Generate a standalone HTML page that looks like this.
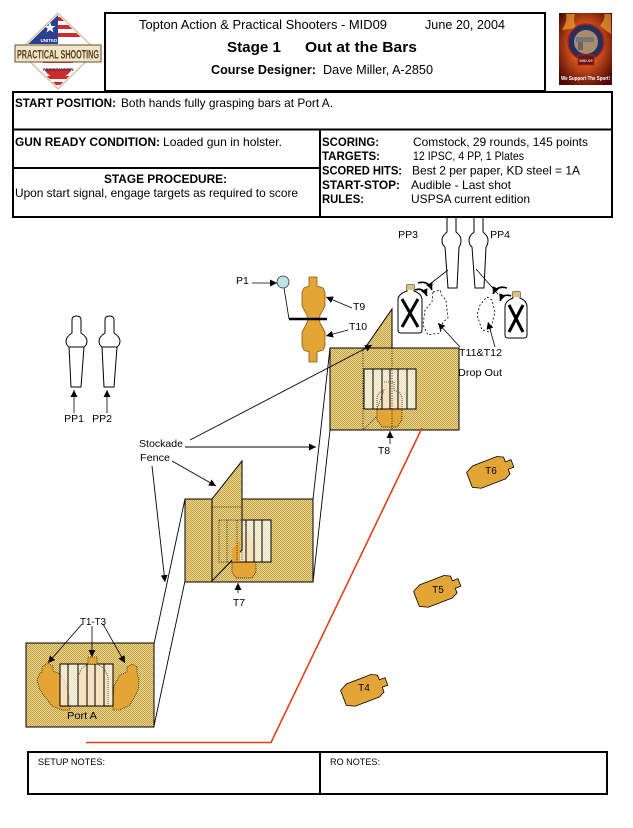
<!DOCTYPE html>
<html><head><meta charset="utf-8"><style>
html,body{margin:0;padding:0;background:#fff;width:633px;height:828px;overflow:hidden}
svg{display:block}
text{font-family:"Liberation Sans",Arial,sans-serif;fill:#000}
</style></head><body>
<svg width="633" height="828" viewBox="0 0 633 828" xmlns="http://www.w3.org/2000/svg">
<defs>
<pattern id="h" width="2" height="2" patternUnits="userSpaceOnUse"><rect width="2" height="2" fill="#efd98e"/><rect width="1" height="1" fill="#bf9f48"/><rect x="1" y="1" width="1" height="1" fill="#bf9f48"/></pattern>
<marker id="a" viewBox="0 0 10 10" refX="10" refY="5" markerWidth="7" markerHeight="7" markerUnits="userSpaceOnUse" orient="auto"><path d="M0,0 L10,5 L0,10 z" fill="#000"/></marker>
<clipPath id="dc"><polygon points="58,15 95,51 58,87 21,51"/></clipPath>
<radialGradient id="fire" cx="50%" cy="45%" r="65%"><stop offset="0" stop-color="#f6b030"/><stop offset="0.45" stop-color="#d0501a"/><stop offset="1" stop-color="#4a0806"/></radialGradient>
</defs>

<!-- ===== DIAGRAM ===== -->
<!-- PP3 / PP4 poppers (top hidden under table) -->
<path d="M447,232 L447,212 Q447,208 451.5,208 Q456,208 456,212 L456,232 Q461,236 461,240 Q461,245 459,247 L457,288 L448,288 L445,247 Q442,245 442,240 Q442,236 447,232 Z" fill="#fff" stroke="#000" stroke-width="1"/>
<path d="M474,232 L474,212 Q474,208 478.5,208 Q483,208 483,212 L483,232 Q488,236 488,240 Q488,245 486,247 L484,288 L475,288 L472,247 Q469,245 469,240 Q469,236 474,232 Z" fill="#fff" stroke="#000" stroke-width="1"/>
<text x="408" y="238" font-size="10.5" text-anchor="middle">PP3</text>
<text x="500" y="238" font-size="10.5" text-anchor="middle">PP4</text>
<line x1="448" y1="270" x2="430" y2="284" stroke="#000" stroke-width="0.8"/>
<line x1="476" y1="269" x2="498" y2="294" stroke="#000" stroke-width="0.8"/>

<!-- steel plates with X -->
<path d="M407,285 L414,285 L414,291 Q422,294 422,300 L422,330 Q422,333 419,333 L401,333 Q398,333 398,330 L398,300 Q398,294 407,291 Z" fill="#fff" stroke="#000" stroke-width="1"/>
<rect x="407" y="285" width="7" height="5" fill="#e3c078"/>
<path d="M402,299 L418,327 M418,299 L402,327" stroke="#000" stroke-width="3"/>
<path d="M513,292 L520,292 L520,298 Q527,301 527,307 L527,335 Q527,338 524,338 L508,338 Q505,338 505,335 L505,307 Q505,301 513,298 Z" fill="#fff" stroke="#000" stroke-width="1"/>
<rect x="513" y="292" width="7" height="5" fill="#e3c078"/>
<path d="M509,305 L523,332 M523,305 L509,332" stroke="#000" stroke-width="3"/>
<!-- dropped (dashed) -->
<path d="M433,292 L440,290 L442,296 L446,300 L448,318 L443,322 L440,333 L428,335 L423,325 L425,310 L432,302 Z" fill="none" stroke="#000" stroke-width="0.8" stroke-dasharray="2,2"/>
<path d="M487,297 L492,300 L495,312 L490,332 L482,330 L477,315 L480,305 L484,300 Z" fill="none" stroke="#000" stroke-width="0.8" stroke-dasharray="2,2"/>
<!-- curved arrows -->
<path d="M418,283 Q428,280 432,290" fill="none" stroke="#000" stroke-width="1.6" marker-end="url(#a)"/>
<path d="M415,290 Q423,287 427,296" fill="none" stroke="#000" stroke-width="1.6" marker-end="url(#a)"/>
<path d="M507,288 Q497,285 493,294" fill="none" stroke="#000" stroke-width="1.6" marker-end="url(#a)"/>
<path d="M511,296 Q503,293 500,301" fill="none" stroke="#000" stroke-width="1.6" marker-end="url(#a)"/>
<text x="459" y="356" font-size="10.5" textLength="43" lengthAdjust="spacingAndGlyphs">T11&amp;T12</text>
<text x="458" y="376" font-size="10.5" textLength="44" lengthAdjust="spacingAndGlyphs">Drop Out</text>
<line x1="460" y1="347" x2="438" y2="323" stroke="#000" stroke-width="0.8" marker-end="url(#a)"/>
<line x1="495" y1="347" x2="488" y2="322" stroke="#000" stroke-width="0.8" marker-end="url(#a)"/>

<!-- PP1 PP2 -->
<path d="M72,333 L72,320 Q72,316 76.5,316 Q81,316 81,320 L81,333 Q87,337 87,341 Q87,345 84,347 L81,387 L71,387 L69,347 Q66,345 66,341 Q66,337 72,333 Z M69,347 H84" fill="#fff" stroke="#000" stroke-width="1"/>
<path d="M105,333 L105,320 Q105,316 109.5,316 Q114,316 114,320 L114,333 Q120,337 120,341 Q120,345 117,347 L114,387 L104,387 L102,347 Q99,345 99,341 Q99,337 105,333 Z M102,347 H117" fill="#fff" stroke="#000" stroke-width="1"/>
<line x1="74" y1="413" x2="74" y2="390" stroke="#000" stroke-width="0.8" marker-end="url(#a)"/>
<line x1="107" y1="413" x2="107" y2="390" stroke="#000" stroke-width="0.8" marker-end="url(#a)"/>
<text x="74" y="422" font-size="10.5" text-anchor="middle">PP1</text>
<text x="102" y="422" font-size="10.5" text-anchor="middle">PP2</text>

<!-- P1 / T9 / T10 -->
<text x="236" y="284" font-size="10.5">P1</text>
<line x1="252" y1="283" x2="277" y2="283" stroke="#000" stroke-width="0.8" marker-end="url(#a)"/>
<line x1="284" y1="288" x2="289" y2="319" stroke="#000" stroke-width="0.8"/>
<circle cx="283" cy="282" r="6" fill="#bfe3e3" stroke="#333" stroke-width="0.8"/>
<path d="M309,277 H317 V286 L323,288 L325,292 V306 L320,315 L319.5,319 H307.5 L307,315 L302,306 V292 L304,288 L309,286 Z" fill="#e3a535" stroke="#8a5a10" stroke-width="0.8"/>
<path d="M307.5,319 H319.5 L320,323 L325,332 V346 L323,350 L317,352 V362 H309 V352 L304,350 L302,346 V332 L307,323 Z" fill="#e3a535" stroke="#8a5a10" stroke-width="0.8"/>
<line x1="289" y1="319" x2="327" y2="319" stroke="#000" stroke-width="2.5"/>
<text x="353" y="310" font-size="10.5">T9</text>
<text x="349" y="330" font-size="10.5">T10</text>
<line x1="352" y1="308" x2="326" y2="297" stroke="#000" stroke-width="0.8" marker-end="url(#a)"/>
<line x1="348" y1="330" x2="326" y2="336" stroke="#000" stroke-width="0.8" marker-end="url(#a)"/>

<!-- connecting lines -->
<g stroke="#000" stroke-width="0.9" fill="none">
<line x1="154" y1="644" x2="185" y2="499"/>
<line x1="154" y1="726" x2="185" y2="581"/>
<line x1="313" y1="499" x2="330" y2="348"/>
<line x1="313" y1="582" x2="330" y2="430"/>
</g>

<!-- T8 box -->
<rect x="330" y="348" width="129" height="82" fill="url(#h)" stroke="#000" stroke-width="1"/>
<polygon points="365,348 392,309 392,348" fill="url(#h)" stroke="#000" stroke-width="1"/>
<path d="M377,409 H402 V420 L397,427 H382 L377,420 Z" fill="#e3a535" stroke="#000" stroke-width="0.7" stroke-dasharray="1,1"/>
<path d="M384,382 H394 V390 L400,393 L402,397 V409 H377 V397 L379,393 L384,390 Z" fill="#e3a535"/>
<rect x="364" y="369" width="52" height="40" fill="#fff" fill-opacity="0.68" stroke="#000" stroke-width="1"/>
<path d="M384,382 H394 V390 L400,393 L402,397 V409 M377,409 V397 L379,393 L384,390 Z" fill="none" stroke="#000" stroke-width="0.6" stroke-dasharray="1,1"/>
<g stroke="#000" stroke-width="1"><line x1="373" y1="369" x2="373" y2="409"/><line x1="382" y1="369" x2="382" y2="409"/><line x1="390" y1="369" x2="390" y2="409"/><line x1="398" y1="369" x2="398" y2="409"/><line x1="407" y1="369" x2="407" y2="409"/></g>
<g stroke="#000" stroke-width="0.8" stroke-dasharray="1,1.5"><line x1="363" y1="348" x2="363" y2="430"/><line x1="392" y1="348" x2="392" y2="430"/><line x1="363" y1="430" x2="377" y2="416"/></g>
<line x1="390" y1="444" x2="390" y2="431" stroke="#000" stroke-width="0.8" marker-end="url(#a)"/>
<text x="384" y="454" font-size="10.5" text-anchor="middle">T8</text>

<!-- T7 box -->
<rect x="185" y="499" width="128" height="83" fill="url(#h)" stroke="#000" stroke-width="1"/>
<path d="M232,562 H256 V572 L252,578 H236 L232,572 Z" fill="#e3a535" stroke="#000" stroke-width="0.7" stroke-dasharray="1,1"/>
<path d="M241,532 H250 V538 L255,541 L256,545 V562 H238 V545 L239,541 L241,538 Z" fill="#e3a535"/>
<rect x="219" y="520" width="52" height="42" fill="#fff" fill-opacity="0.68" stroke="#000" stroke-width="1"/>
<g stroke="#000" stroke-width="1"><line x1="227" y1="520" x2="227" y2="562"/><line x1="237" y1="520" x2="237" y2="562"/><line x1="246" y1="520" x2="246" y2="562"/><line x1="254" y1="520" x2="254" y2="562"/><line x1="262" y1="520" x2="262" y2="562"/></g>
<polygon points="212,499 242,461 242,550 212,581" fill="url(#h)" stroke="#000" stroke-width="1"/>
<path d="M232,562 L232,549 L237,543 L240,540 L240,562 Z" fill="#e3a535"/>
<g stroke="#000" stroke-width="0.7" stroke-dasharray="1,1.3" fill="none"><rect x="219" y="520" width="23" height="42"/><line x1="227" y1="520" x2="227" y2="562"/><line x1="237" y1="520" x2="237" y2="562"/><line x1="212" y1="507" x2="242" y2="507"/></g>
<line x1="238" y1="593" x2="238" y2="583" stroke="#000" stroke-width="0.8" marker-end="url(#a)"/>
<text x="239" y="606" font-size="10.5" text-anchor="middle">T7</text>

<!-- T1 box (Port A) -->
<rect x="26" y="643" width="128" height="84" fill="url(#h)" stroke="#000" stroke-width="1"/>
<path d="M42,667 L47,663 L53,666 L53,671 L60,674 L66,684 L70,700 L70,710 L62,710 L52,706 L40,690 L37,680 L40,673 L42,672 Z" fill="#e3a535" stroke="#000" stroke-width="0.6" stroke-dasharray="1,1"/>
<path d="M137,667 L132,664 L127,667 L127,672 L120,675 L114,686 L113,700 L113,710 L120,710 L130,705 L138,690 L139,680 L137,673 Z" fill="#e3a535" stroke="#000" stroke-width="0.6" stroke-dasharray="1,1"/>
<path d="M88,657 H97 V664 L104,668 L108,676 V706 H78 V676 L82,668 L88,664 Z" fill="#e3a535"/>
<rect x="60" y="664" width="53" height="42" fill="#fff" fill-opacity="0.68" stroke="#000" stroke-width="1"/>
<rect x="88" y="657" width="9" height="7" fill="#e3a535" stroke="#000" stroke-width="0.6" stroke-dasharray="1,1"/>
<path d="M97,664 L104,668 L108,676 V706 M78,706 V676 L82,668 L88,664" fill="none" stroke="#000" stroke-width="0.6" stroke-dasharray="1,1"/>
<g stroke="#000" stroke-width="1"><line x1="68" y1="664" x2="68" y2="706"/><line x1="78" y1="664" x2="78" y2="706"/><line x1="87" y1="664" x2="87" y2="706"/><line x1="95" y1="664" x2="95" y2="706"/><line x1="104" y1="664" x2="104" y2="706"/></g>
<text x="67" y="719" font-size="10.5" textLength="30" lengthAdjust="spacingAndGlyphs">Port A</text>
<text x="80" y="625" font-size="10.5" textLength="26" lengthAdjust="spacingAndGlyphs">T1-T3</text>
<line x1="82" y1="624" x2="48" y2="663" stroke="#000" stroke-width="0.8" marker-end="url(#a)"/>
<line x1="92" y1="626" x2="92" y2="657" stroke="#000" stroke-width="0.8" marker-end="url(#a)"/>
<line x1="103" y1="624" x2="125" y2="663" stroke="#000" stroke-width="0.8" marker-end="url(#a)"/>

<!-- Stockade fence labels & arrows -->
<text x="139" y="447" font-size="10.5" textLength="44" lengthAdjust="spacingAndGlyphs">Stockade</text>
<text x="140" y="461" font-size="10.5" textLength="30" lengthAdjust="spacingAndGlyphs">Fence</text>
<g stroke="#000" stroke-width="0.9">
<line x1="190" y1="440" x2="372" y2="345" marker-end="url(#a)"/>
<line x1="185" y1="447" x2="316" y2="447" marker-end="url(#a)"/>
<line x1="172" y1="461" x2="216" y2="486" marker-end="url(#a)"/>
<line x1="152" y1="466" x2="165" y2="582" marker-end="url(#a)"/>
</g>

<!-- red line -->
<polyline points="86,742.5 271,742.5 422,428" fill="none" stroke="#e0401a" stroke-width="1.6"/>

<!-- T4 T5 T6 -->
<g fill="#e3a535" stroke="#000" stroke-width="0.8">
<path transform="translate(490,472) rotate(69)" d="M-4,-24 H4 V-18 H9 L12,-12 V14 L8,22 H-8 L-12,14 V-12 L-9,-18 H-4 Z"/>
<path transform="translate(437,591) rotate(69)" d="M-4,-24 H4 V-18 H9 L12,-12 V14 L8,22 H-8 L-12,14 V-12 L-9,-18 H-4 Z"/>
<path transform="translate(364,690) rotate(69)" d="M-4,-24 H4 V-18 H9 L12,-12 V14 L8,22 H-8 L-12,14 V-12 L-9,-18 H-4 Z"/>
</g>
<text x="491" y="474" font-size="10" text-anchor="middle">T6</text>
<text x="438" y="593" font-size="10" text-anchor="middle">T5</text>
<text x="364" y="691" font-size="10" text-anchor="middle">T4</text>

<!-- ===== HEADER ===== -->
<!-- left logo -->
<polygon points="58,13 97,51 58,89 19,51" fill="#f4efe6" stroke="#c8b89a" stroke-width="1"/>
<g clip-path="url(#dc)">
<rect x="18" y="12" width="80" height="80" fill="#fff"/>
<rect x="58" y="17" width="40" height="4" fill="#d02a2a"/>
<rect x="58" y="25" width="40" height="4" fill="#d02a2a"/>
<rect x="58" y="33" width="40" height="4" fill="#d02a2a"/>
<rect x="18" y="12" width="40" height="32" fill="#2a3f8f"/>
<polygon points="50,22 51.5,26 55.5,26 52.3,28.5 53.5,32.5 50,30 46.5,32.5 47.7,28.5 44.5,26 48.5,26" fill="#fff"/>
<circle cx="58" cy="63" r="15" fill="#d02a2a"/>
<rect x="18" y="63" width="80" height="6" fill="#fff"/>
<rect x="18" y="76" width="80" height="3" fill="#d02a2a"/>
<rect x="18" y="82" width="80" height="3" fill="#d02a2a"/>
</g>
<text x="58" y="42" font-size="4.5" font-weight="bold" text-anchor="middle" style="fill:#fff">UNITED STATES</text>
<rect x="15" y="45" width="86" height="17" fill="#efe6c8" stroke="#6a4a2a" stroke-width="1"/>
<text x="17" y="58.5" font-size="12" font-weight="bold" textLength="82" lengthAdjust="spacingAndGlyphs" style="fill:#5a3a1a">PRACTICAL SHOOTING</text>
<text x="58" y="71" font-size="4.5" font-weight="bold" text-anchor="middle" style="fill:#3a2a5a">ASSOCIATION</text>

<!-- right logo -->
<rect x="559" y="13" width="53" height="72" fill="url(#fire)"/>
<path d="M562,30 Q568,20 566,14 L575,14 Q572,24 578,28 Z M600,26 Q606,18 604,14 L611,14 L611,34 Q605,30 600,26 Z" fill="#f0a030" opacity="0.7"/>
<circle cx="586" cy="42" r="18" fill="#22305e" stroke="#b02018" stroke-width="1.5"/>
<circle cx="586" cy="42" r="12" fill="#a88c6c"/>
<rect x="576" y="37" width="18" height="5" fill="#777"/>
<rect x="578" y="42" width="5" height="8" fill="#666"/>
<rect x="578" y="55" width="16" height="10" fill="#6a1510" stroke="#b02018" stroke-width="1"/>
<text x="586" y="62" font-size="4" font-weight="bold" text-anchor="middle" style="fill:#ddd">MID-09</text>
<text x="561" y="80" font-size="5" font-weight="bold" textLength="49" lengthAdjust="spacingAndGlyphs" style="fill:#fff">We Support The Sport!</text>

<!-- title box -->
<rect x="105" y="13" width="440" height="78" fill="#fff" stroke="#000" stroke-width="2"/>
<text x="139" y="29" font-size="12.5" textLength="248" lengthAdjust="spacingAndGlyphs">Topton Action &amp; Practical Shooters - MID09</text>
<text x="425" y="29" font-size="12.5" textLength="80" lengthAdjust="spacingAndGlyphs">June 20, 2004</text>
<text x="227" y="52" font-size="15" font-weight="bold" textLength="54" lengthAdjust="spacingAndGlyphs">Stage 1</text>
<text x="305" y="52" font-size="15" font-weight="bold" textLength="112" lengthAdjust="spacingAndGlyphs">Out at the Bars</text>
<text x="211" y="74" font-size="12.5" font-weight="bold" textLength="105" lengthAdjust="spacingAndGlyphs">Course Designer:</text>
<text x="323" y="74" font-size="12.5" textLength="110" lengthAdjust="spacingAndGlyphs">Dave Miller, A-2850</text>

<!-- main table -->
<rect x="13" y="92" width="599" height="125" fill="#fff" stroke="#000" stroke-width="2"/>
<line x1="13" y1="129.5" x2="612" y2="129.5" stroke="#000" stroke-width="2"/>
<line x1="320" y1="129.5" x2="320" y2="217" stroke="#000" stroke-width="2"/>
<line x1="13" y1="168" x2="320" y2="168" stroke="#000" stroke-width="2"/>
<g font-size="12">
<text x="15" y="107" font-weight="bold" textLength="101" lengthAdjust="spacingAndGlyphs">START POSITION:</text>
<text x="121" y="107" textLength="212" lengthAdjust="spacingAndGlyphs">Both hands fully grasping bars at Port A.</text>
<text x="15" y="146" font-weight="bold" textLength="145" lengthAdjust="spacingAndGlyphs">GUN READY CONDITION:</text>
<text x="163" y="146" textLength="119" lengthAdjust="spacingAndGlyphs">Loaded gun in holster.</text>
<text x="104" y="183" font-weight="bold" textLength="123" lengthAdjust="spacingAndGlyphs">STAGE PROCEDURE:</text>
<text x="15" y="197" textLength="283" lengthAdjust="spacingAndGlyphs">Upon start signal, engage targets as required to score</text>
<text x="322" y="146" font-weight="bold" textLength="57" lengthAdjust="spacingAndGlyphs">SCORING:</text>
<text x="413" y="146" textLength="175" lengthAdjust="spacingAndGlyphs">Comstock, 29 rounds, 145 points</text>
<text x="322" y="160" font-weight="bold" textLength="58" lengthAdjust="spacingAndGlyphs">TARGETS:</text>
<text x="413" y="160" textLength="111" lengthAdjust="spacingAndGlyphs">12 IPSC, 4 PP, 1 Plates</text>
<text x="322" y="174.5" font-weight="bold" textLength="80" lengthAdjust="spacingAndGlyphs">SCORED HITS:</text>
<text x="412" y="174.5" textLength="168" lengthAdjust="spacingAndGlyphs">Best 2 per paper, KD steel = 1A</text>
<text x="322" y="189" font-weight="bold" textLength="78" lengthAdjust="spacingAndGlyphs">START-STOP:</text>
<text x="411" y="189" textLength="100" lengthAdjust="spacingAndGlyphs">Audible - Last shot</text>
<text x="322" y="203" font-weight="bold" textLength="42" lengthAdjust="spacingAndGlyphs">RULES:</text>
<text x="411" y="203" textLength="119" lengthAdjust="spacingAndGlyphs">USPSA current edition</text>
</g>

<!-- notes -->
<rect x="28" y="752" width="579" height="42" fill="#fff" stroke="#000" stroke-width="2"/>
<line x1="320" y1="752" x2="320" y2="794" stroke="#000" stroke-width="2"/>
<text x="38" y="765" font-size="9" textLength="67" lengthAdjust="spacingAndGlyphs">SETUP NOTES:</text>
<text x="330" y="765" font-size="9" textLength="50" lengthAdjust="spacingAndGlyphs">RO NOTES:</text>
</svg>
</body></html>
